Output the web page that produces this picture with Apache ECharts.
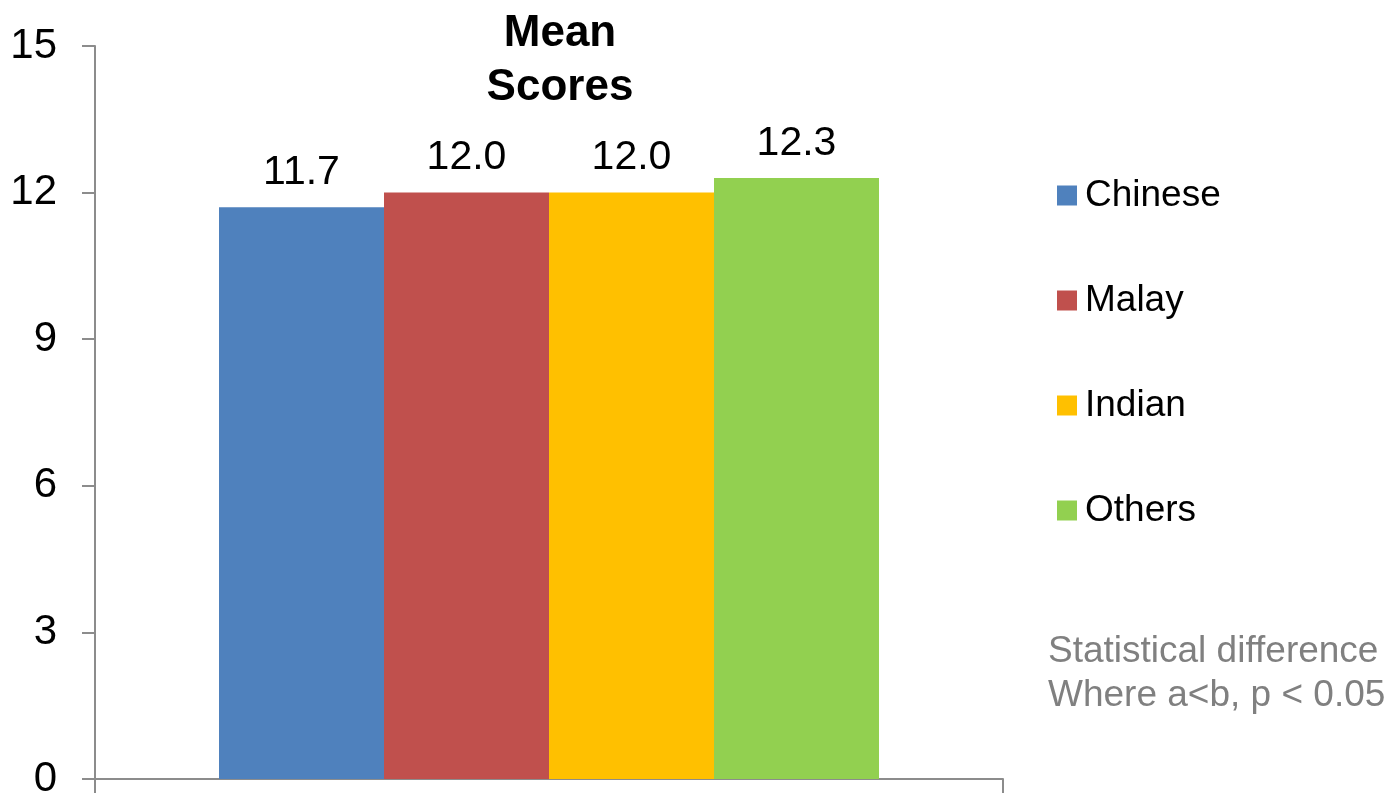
<!DOCTYPE html>
<html>
<head>
<meta charset="utf-8">
<style>
  html, body { margin: 0; padding: 0; background: #fff; }
  #chart { width: 1395px; height: 793px; }
</style>
<script src="https://cdn.jsdelivr.net/npm/echarts@6/dist/echarts.min.js"></script>
</head>
<body>
<div id="chart"></div>
<script>
// Mean scores by ethnic group
const categories = ['Mean Scores'];
const groups = ['Chinese', 'Malay', 'Indian', 'Others'];
const meanScores = [11.7, 12.0, 12.0, 12.3];
const groupColors = ['#4f81bd', '#c0504d', '#ffc000', '#92d050'];
const yTicks = { min: 0, max: 15, interval: 3 };
const noteLines = ['Statistical difference', 'Where a<b, p < 0.05'];

const chart = echarts.init(document.getElementById('chart'));

const series = groups.map((name, i) => ({
  name: name,
  type: 'bar',
  data: [meanScores[i]],
  barWidth: 165,
  barGap: '0%',
  itemStyle: { color: groupColors[i] },
  label: {
    show: true,
    position: 'top',
    distance: 14,
    formatter: p => p.value.toFixed(1),
    color: '#000',
    fontSize: 41,
    fontFamily: '"Liberation Sans", Arial, sans-serif'
  }
}));

chart.setOption({
  animation: false,
  backgroundColor: '#fff',
  textStyle: { fontFamily: '"Liberation Sans", Arial, sans-serif' },
  title: {
    text: 'Mean\nScores',
    left: 555,
    textAlign: 'center',
    top: 2,
    textStyle: {
      fontSize: 44,
      fontWeight: 'bold',
      color: '#000',
      lineHeight: 54,
      fontFamily: '"Liberation Sans", Arial, sans-serif'
    }
  },
  legend: {
    orient: 'vertical',
    left: 1057,
    top: 177,
    padding: 0,
    itemWidth: 20,
    itemHeight: 20,
    itemGap: 68,
    icon: 'rect',
    data: groups,
    textStyle: {
      fontSize: 37,
      lineHeight: 36,
      color: '#000',
      padding: [0, 0, 0, 3],
      fontFamily: '"Liberation Sans", Arial, sans-serif'
    }
  },
  grid: { left: 95, right: 392, top: 46, bottom: 14, containLabel: false, outerBoundsMode: 'none' },
  xAxis: {
    type: 'category',
    data: categories,
    axisLine: { lineStyle: { color: '#8c8c8c', width: 2 } },
    axisTick: { show: true, length: 14, lineStyle: { color: '#8c8c8c', width: 2 } },
    axisLabel: { show: false }
  },
  yAxis: {
    type: 'value',
    min: yTicks.min,
    max: yTicks.max,
    interval: yTicks.interval,
    axisLine: { show: true, lineStyle: { color: '#8c8c8c', width: 2 } },
    axisTick: { show: true, length: 13, lineStyle: { color: '#8c8c8c', width: 2 } },
    splitLine: { show: false },
    axisLabel: {
      margin: 38,
      fontSize: 42,
      color: '#000',
      fontFamily: '"Liberation Sans", Arial, sans-serif'
    }
  },
  graphic: [{
    type: 'text',
    left: 1048,
    top: 630,
    style: {
      text: noteLines.join('\n'),
      fontSize: 37,
      lineHeight: 44,
      fill: '#808080',
      fontFamily: '"Liberation Sans", Arial, sans-serif'
    }
  }],
  series: series
});
</script>
</body>
</html>
